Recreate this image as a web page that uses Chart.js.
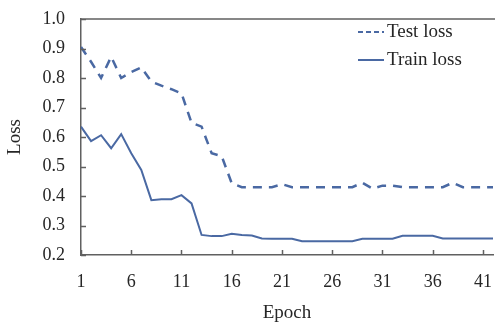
<!DOCTYPE html>
<html>
<head>
<meta charset="utf-8">
<script src="https://cdn.jsdelivr.net/npm/chart.js@4"></script>
<style>
    html, body { margin: 0; padding: 0; background: #fff; }
    #wrap { width: 495px; height: 327px; }
</style>
</head>
<body>
<div id="wrap"><canvas id="lossChart" width="495" height="327"></canvas></div>
<script>
const epochs = [1, 2, 3, 4, 5, 6, 7, 8, 9, 10, 11, 12, 13, 14, 15, 16, 17, 18, 19, 20, 21,
    22, 23, 24, 25, 26, 27, 28, 29, 30, 31, 32, 33, 34, 35, 36, 37, 38, 39, 40, 41, 42];
const testLoss = [0.905, 0.855, 0.800, 0.872, 0.800, 0.820, 0.836, 0.788, 0.774, 0.762, 0.748,
    0.648, 0.635, 0.545, 0.535, 0.443, 0.430, 0.430, 0.430, 0.430, 0.440, 0.430, 0.430, 0.430,
    0.430, 0.430, 0.430, 0.430, 0.445, 0.425, 0.435, 0.435, 0.430, 0.430, 0.430, 0.430, 0.430,
    0.445, 0.430, 0.430, 0.430, 0.430];
const trainLoss = [0.635, 0.586, 0.606, 0.562, 0.610, 0.545, 0.488, 0.386, 0.389, 0.389, 0.403,
    0.375, 0.268, 0.264, 0.264, 0.272, 0.268, 0.266, 0.256, 0.255, 0.255, 0.255, 0.247, 0.247,
    0.247, 0.247, 0.247, 0.247, 0.255, 0.255, 0.255, 0.255, 0.265, 0.265, 0.265, 0.265, 0.256,
    0.256, 0.256, 0.256, 0.256, 0.256];
const xTicks = [1, 6, 11, 16, 21, 26, 31, 36, 41];
const seriesNames = ['Test loss', 'Train loss'];

const lineColor = '#4a69a3';
const axisColor = '#606060';
const textColor = '#262626';
const serif = 'Liberation Serif';

// inward tick marks, the top frame line and the legend
const extras = {
    id: 'extras',
    afterDraw(chart) {
        const ctx = chart.ctx;
        const area = chart.chartArea;
        const x = chart.scales.x;
        const y = chart.scales.y;
        ctx.save();
        ctx.strokeStyle = axisColor;
        ctx.lineWidth = 1.5;
        ctx.beginPath();
        ctx.moveTo(area.left, area.top);
        ctx.lineTo(chart.width, area.top);
        x.ticks.forEach(t => {
            const px = Math.round(x.getPixelForValue(t.value)) + 0.5;
            ctx.moveTo(px, area.bottom);
            ctx.lineTo(px, area.bottom - 5);
        });
        y.ticks.forEach(t => {
            const py = Math.round(y.getPixelForValue(t.value)) + 0.5;
            ctx.moveTo(area.left, py);
            ctx.lineTo(area.left + 5, py);
        });
        ctx.stroke();

        // legend
        ctx.font = '19px "' + serif + '"';
        ctx.textBaseline = 'middle';
        ctx.fillStyle = textColor;
        chart.data.datasets.forEach((ds, i) => {
            const ly = 32 + i * 28;
            ctx.strokeStyle = ds.borderColor;
            ctx.lineWidth = 2;
            ctx.setLineDash(ds.borderDash ? [5, 3] : []);
            ctx.beginPath();
            ctx.moveTo(358, ly);
            ctx.lineTo(384, ly);
            ctx.stroke();
            ctx.setLineDash([]);
            ctx.fillText(ds.label, 387, ly);
        });
        ctx.restore();
    }
};

new Chart(document.getElementById('lossChart'), {
    type: 'line',
    data: {
        datasets: [{
            label: seriesNames[0],
            data: epochs.map((e, i) => ({x: e, y: testLoss[i]})),
            borderColor: lineColor,
            borderWidth: 2.5,
            borderDash: [9, 7],
            pointRadius: 0,
            tension: 0
        }, {
            label: seriesNames[1],
            data: epochs.map((e, i) => ({x: e, y: trainLoss[i]})),
            borderColor: lineColor,
            borderWidth: 2,
            pointRadius: 0,
            tension: 0
        }]
    },
    options: {
        responsive: false,
        animation: false,
        layout: {padding: {top: 19, right: 2, left: 0, bottom: 0}},
        plugins: {
            legend: {display: false},
            tooltip: {enabled: false}
        },
        scales: {
            x: {
                type: 'linear',
                min: 1,
                max: 42,
                afterBuildTicks: scale => {
                    scale.ticks = xTicks.map(v => ({value: v}));
                },
                afterFit: scale => {
                    scale.height = 72;
                    scale.paddingLeft = 0;
                    scale.paddingRight = 0;
                },
                grid: {display: false, drawTicks: false},
                border: {display: true, color: axisColor, width: 1.5},
                ticks: {
                    color: textColor,
                    font: {family: serif, size: 18},
                    padding: 16,
                    maxRotation: 0
                },
                title: {
                    display: true,
                    text: 'Epoch',
                    color: textColor,
                    font: {family: serif, size: 19},
                    padding: {top: 0, bottom: 3}
                }
            },
            y: {
                min: 0.2,
                max: 1.0,
                afterFit: scale => {
                    scale.width = 81;
                    scale.paddingTop = 0;
                    scale.paddingBottom = 0;
                },
                grid: {display: false, drawTicks: false},
                border: {display: true, color: axisColor, width: 1.5},
                ticks: {
                    stepSize: 0.1,
                    color: textColor,
                    font: {family: serif, size: 18},
                    padding: 16,
                    callback: v => v.toFixed(1)
                },
                title: {
                    display: true,
                    text: 'Loss',
                    color: textColor,
                    font: {family: serif, size: 19},
                    padding: {top: 4, bottom: 0}
                }
            }
        }
    },
    plugins: [extras]
});
</script>
</body>
</html>
